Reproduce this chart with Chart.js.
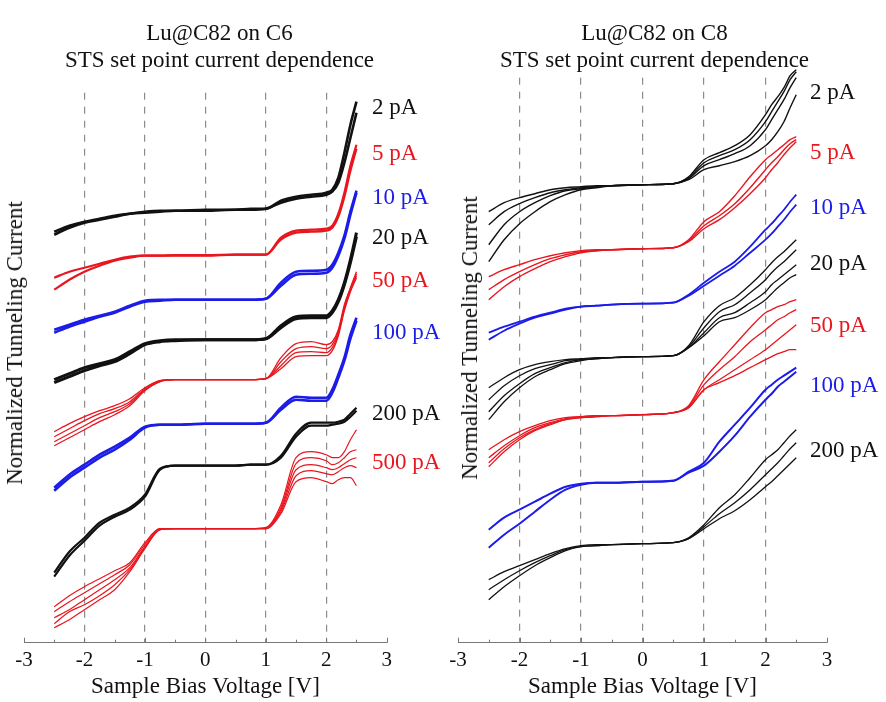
<!DOCTYPE html>
<html lang="en">
<head>
<meta charset="UTF-8">
<title>Lu@C82 STS set point current dependence</title>
<script src="https://cdn.jsdelivr.net/npm/chart.js"></script>
<style>
    body { margin: 0; background: #fff; font-family: "Liberation Serif", "DejaVu Serif", serif; color: #111; }
    #wrap { position: relative; width: 886px; height: 702px; overflow: hidden; }
    canvas { position: absolute; top: 0; }
    .title { position: absolute; top: 19px; width: 443px; text-align: center; font-size: 23px; line-height: 27px; }
    .ytitle { position: absolute; transform: translate(-50%, -50%) rotate(-90deg); white-space: nowrap; font-size: 23px; }
    .lbl { position: absolute; transform: translateY(-50%); white-space: nowrap; font-size: 23px; }
</style>
</head>
<body>
<div id="wrap">
    <canvas id="c6" width="443" height="702" style="left:0"></canvas>
    <canvas id="c8" width="443" height="702" style="left:443px"></canvas>
    <div class="title" style="left:-2px">Lu@C82 on C6<br>STS set point current dependence</div>
    <div class="title" style="left:433px">Lu@C82 on C8<br>STS set point current dependence</div>
    <div class="ytitle" style="left:15px; top:343px">Normalized Tunneling Current</div>
    <div class="ytitle" style="left:470px; top:338px">Normalized Tunneling Current</div>
</div>

<script>
    // sample bias grid (V) shared by every trace
    const biasV = [-2.5, -2.25, -2, -1.75, -1.5, -1.25, -1, -0.75, -0.5, 0, 0.5, 0.75, 1, 1.25, 1.5, 1.75, 2, 2.1, 2.2, 2.3, 2.4, 2.5];
    const xTicks = [-3, -2, -1, 0, 1, 2, 3];

    // ---- Lu@C82 on C6 (offset traces, arbitrary units) ----
    const c6Labels = ['2 pA', '5 pA', '10 pA', '20 pA', '50 pA', '100 pA', '200 pA', '500 pA'];
    const c6_2pA = [
        [41.1, 41.7, 42.1, 42.4, 42.7, 42.9, 43.1, 43.2, 43.2, 43.3, 43.3, 43.4, 43.4, 44.2, 44.6, 44.8, 45.0, 45.3, 46.5, 49.0, 51.8, 54.1],
        [40.8, 41.5, 42.0, 42.3, 42.6, 42.9, 43.0, 43.1, 43.2, 43.2, 43.3, 43.3, 43.4, 44.0, 44.4, 44.6, 44.8, 45.1, 46.0, 48.0, 50.5, 53.0]
    ];
    const c6_5pA = [
        [36.5, 37.1, 37.5, 37.9, 38.3, 38.6, 38.7, 38.7, 38.75, 38.75, 38.8, 38.8, 38.8, 40.5, 41.2, 41.3, 41.4, 41.7, 42.9, 45.0, 47.7, 49.8],
        [35.3, 36.3, 37.1, 37.7, 38.2, 38.5, 38.7, 38.7, 38.7, 38.7, 38.8, 38.8, 38.8, 40.3, 41.0, 41.1, 41.2, 41.5, 42.6, 44.6, 47.2, 49.4]
    ];
    const c6_10pA = [
        [31.3, 31.8, 32.3, 32.7, 33.1, 33.7, 34.2, 34.3, 34.3, 34.3, 34.3, 34.3, 34.4, 36.0, 37.1, 37.2, 37.3, 37.8, 39.0, 40.7, 43.1, 45.2],
        [31.0, 31.6, 32.1, 32.6, 33.0, 33.6, 34.1, 34.2, 34.3, 34.3, 34.3, 34.3, 34.4, 35.7, 36.8, 36.9, 37.0, 37.5, 38.7, 40.4, 42.8, 45.0]
    ];
    const c6_20pA = [
        [26.3, 26.9, 27.5, 27.9, 28.3, 29.1, 29.9, 30.2, 30.3, 30.3, 30.3, 30.3, 30.4, 31.7, 32.6, 32.7, 32.7, 33.2, 34.3, 36.0, 38.3, 41.0],
        [26.0, 26.6, 27.2, 27.7, 28.1, 28.9, 29.8, 30.1, 30.2, 30.3, 30.3, 30.3, 30.4, 31.5, 32.4, 32.5, 32.5, 33.0, 34.1, 35.8, 38.0, 40.6]
    ];
    const c6_50pA = [
        [21.1, 21.9, 22.6, 23.2, 23.7, 24.4, 25.5, 26.2, 26.3, 26.3, 26.3, 26.3, 26.4, 28.5, 29.9, 30.1, 29.8, 30.1, 31.3, 33.8, 35.5, 37.1],
        [20.6, 21.4, 22.2, 22.9, 23.4, 24.1, 25.4, 26.2, 26.3, 26.3, 26.3, 26.3, 26.4, 28.1, 29.4, 29.6, 29.4, 29.8, 31.1, 33.6, 35.4, 36.9],
        [20.1, 20.9, 21.7, 22.5, 23.1, 23.9, 25.3, 26.1, 26.3, 26.3, 26.3, 26.3, 26.4, 27.7, 29.0, 29.1, 29.0, 29.5, 30.9, 33.4, 35.3, 36.7],
        [19.7, 20.5, 21.3, 22.1, 22.8, 23.7, 25.2, 26.1, 26.3, 26.3, 26.3, 26.3, 26.4, 27.4, 28.6, 28.7, 28.7, 29.2, 30.7, 33.2, 35.1, 36.5]
    ];
    const c6_100pA = [
        [15.5, 16.8, 17.8, 18.8, 19.6, 20.5, 21.6, 21.8, 21.8, 21.9, 21.9, 21.9, 22.0, 23.5, 24.6, 24.5, 24.5, 25.3, 26.8, 28.5, 30.8, 32.5],
        [15.2, 16.5, 17.5, 18.5, 19.3, 20.3, 21.5, 21.8, 21.8, 21.9, 21.9, 21.9, 22.0, 23.3, 24.3, 24.2, 24.2, 25.0, 26.5, 28.2, 30.4, 32.2]
    ];
    const c6_200pA = [
        [7.0, 9.1, 10.5, 12.0, 12.8, 13.5, 14.8, 17.4, 17.7, 17.7, 17.7, 17.8, 17.8, 18.7, 20.9, 22.0, 22.0, 22.0, 22.1, 22.3, 22.9, 23.5],
        [6.6, 8.7, 10.2, 11.7, 12.6, 13.3, 14.6, 17.3, 17.7, 17.7, 17.7, 17.8, 17.8, 18.5, 20.6, 21.7, 21.7, 21.8, 21.9, 22.1, 22.6, 23.2]
    ];
    const c6_500pA = [
        [3.6, 4.7, 5.6, 6.4, 7.2, 8.0, 10.0, 11.4, 11.4, 11.4, 11.4, 11.4, 11.5, 13.8, 18.5, 19.1, 18.8, 18.5, 18.5, 19.1, 20.3, 21.3],
        [3.1, 4.1, 5.0, 5.9, 6.8, 7.8, 9.8, 11.4, 11.4, 11.4, 11.4, 11.4, 11.5, 13.5, 17.9, 18.5, 18.2, 17.8, 18.0, 18.5, 19.1, 19.3],
        [2.5, 3.3, 4.3, 5.3, 6.3, 7.5, 9.6, 11.3, 11.4, 11.4, 11.4, 11.4, 11.4, 13.3, 17.3, 17.8, 17.5, 17.3, 17.5, 17.9, 18.3, 18.5],
        [1.9, 3.1, 3.8, 4.7, 5.8, 7.3, 9.5, 11.3, 11.4, 11.4, 11.4, 11.4, 11.4, 13.1, 16.7, 17.2, 16.9, 16.8, 17.1, 17.5, 17.7, 17.5],
        [1.5, 2.3, 3.3, 4.3, 5.3, 7.1, 9.4, 11.3, 11.4, 11.4, 11.4, 11.4, 11.4, 12.9, 16.1, 16.5, 16.1, 15.9, 16.3, 16.5, 16.5, 15.7]
    ];

    // ---- Lu@C82 on C8 ----
    const c8Labels = ['2 pA', '5 pA', '10 pA', '20 pA', '50 pA', '100 pA', '200 pA'];
    const c8_2pA = [
        [43.1, 44.0, 44.5, 44.9, 45.3, 45.5, 45.6, 45.7, 45.7, 45.8, 45.9, 46.6, 48.3, 49.0, 49.7, 50.8, 52.8, 53.8, 54.6, 55.5, 56.7, 57.3],
        [41.8, 43.1, 43.9, 44.5, 45.0, 45.3, 45.5, 45.6, 45.7, 45.8, 45.9, 46.5, 48.0, 48.7, 49.3, 50.3, 52.1, 53.1, 54.1, 55.1, 56.3, 57.1],
        [39.8, 41.8, 43.1, 44.0, 44.7, 45.2, 45.4, 45.6, 45.7, 45.8, 45.9, 46.4, 47.7, 48.3, 48.9, 49.7, 51.3, 52.3, 53.3, 54.3, 55.5, 56.5],
        [38.1, 40.3, 41.9, 43.1, 44.1, 44.8, 45.3, 45.5, 45.7, 45.8, 45.9, 46.3, 47.3, 47.7, 48.1, 48.7, 49.7, 50.3, 51.1, 52.1, 53.5, 54.8]
    ];
    const c8_5pA = [
        [36.6, 37.3, 37.8, 38.3, 38.7, 39.0, 39.2, 39.3, 39.3, 39.4, 39.5, 40.3, 42.1, 43.1, 44.7, 46.6, 48.3, 48.8, 49.3, 49.8, 50.3, 50.6],
        [35.3, 36.3, 37.1, 37.8, 38.4, 38.8, 39.1, 39.2, 39.3, 39.4, 39.5, 40.2, 41.7, 42.7, 43.9, 45.5, 47.3, 48.0, 48.6, 49.3, 49.9, 50.3],
        [34.3, 35.6, 36.6, 37.4, 38.1, 38.6, 39.0, 39.2, 39.3, 39.4, 39.5, 40.1, 41.4, 42.3, 43.5, 44.9, 46.5, 47.3, 48.0, 48.8, 49.5, 50.1]
    ];
    const c8_10pA = [
        [31.0, 31.6, 32.1, 32.6, 33.0, 33.4, 33.6, 33.7, 33.8, 33.9, 34.0, 34.8, 36.0, 37.1, 38.1, 39.6, 41.3, 41.9, 42.6, 43.3, 44.1, 44.8],
        [30.3, 31.2, 31.9, 32.5, 32.9, 33.3, 33.6, 33.7, 33.8, 33.9, 34.0, 34.7, 35.7, 36.7, 37.7, 39.0, 40.3, 40.9, 41.6, 42.3, 43.1, 43.8]
    ];
    const c8_20pA = [
        [25.5, 26.5, 27.3, 27.8, 28.1, 28.3, 28.4, 28.5, 28.5, 28.6, 28.7, 29.7, 32.1, 33.7, 34.5, 35.8, 37.3, 38.0, 38.6, 39.1, 39.7, 40.3],
        [24.3, 25.7, 26.7, 27.4, 27.8, 28.2, 28.3, 28.4, 28.5, 28.6, 28.7, 29.6, 31.5, 33.1, 33.8, 35.0, 36.3, 37.0, 37.6, 38.1, 38.7, 39.3],
        [23.1, 24.7, 25.9, 26.9, 27.5, 28.0, 28.3, 28.4, 28.5, 28.6, 28.7, 29.5, 31.0, 32.5, 33.0, 34.0, 35.1, 35.8, 36.3, 36.8, 37.3, 37.8],
        [22.3, 24.1, 25.5, 26.6, 27.3, 27.9, 28.2, 28.4, 28.5, 28.6, 28.7, 29.5, 30.7, 32.1, 32.5, 33.3, 34.3, 34.9, 35.5, 36.0, 36.5, 36.8]
    ];
    const c8_50pA = [
        [19.3, 20.3, 21.1, 21.7, 22.2, 22.5, 22.6, 22.7, 22.7, 22.8, 23.0, 23.7, 26.3, 28.1, 29.8, 31.5, 33.0, 33.3, 33.6, 33.8, 34.1, 34.3],
        [18.5, 19.7, 20.7, 21.5, 22.0, 22.4, 22.6, 22.7, 22.7, 22.8, 23.0, 23.6, 25.8, 27.3, 28.6, 30.1, 31.3, 31.8, 32.3, 32.6, 33.0, 33.3],
        [17.6, 19.1, 20.3, 21.2, 21.8, 22.3, 22.5, 22.6, 22.7, 22.8, 23.0, 23.5, 25.3, 26.3, 27.3, 28.3, 29.3, 29.8, 30.3, 30.8, 31.3, 31.8],
        [18.0, 19.4, 20.5, 21.3, 21.9, 22.3, 22.5, 22.6, 22.7, 22.8, 23.0, 23.5, 25.3, 26.0, 26.7, 27.5, 28.3, 28.6, 28.9, 29.1, 29.3, 29.3]
    ];
    const c8_100pA = [
        [11.3, 12.5, 13.3, 14.1, 14.9, 15.6, 15.9, 16.0, 16.0, 16.1, 16.2, 17.1, 18.0, 20.1, 21.8, 23.5, 25.3, 25.8, 26.3, 26.7, 27.1, 27.5],
        [9.5, 10.8, 11.9, 13.1, 14.3, 15.3, 15.8, 16.0, 16.0, 16.1, 16.2, 17.0, 17.7, 19.1, 20.7, 22.6, 24.3, 24.9, 25.6, 26.1, 26.6, 27.1]
    ];
    const c8_200pA = [
        [6.3, 7.1, 7.7, 8.3, 8.9, 9.4, 9.7, 9.8, 9.8, 9.9, 10.0, 10.5, 11.8, 13.5, 14.8, 16.5, 18.3, 18.8, 19.3, 20.0, 20.7, 21.3],
        [5.3, 6.3, 7.2, 8.0, 8.7, 9.3, 9.6, 9.7, 9.8, 9.9, 10.0, 10.4, 11.6, 12.9, 14.0, 15.3, 16.8, 17.4, 18.0, 18.7, 19.4, 20.0],
        [4.3, 5.6, 6.7, 7.7, 8.5, 9.2, 9.6, 9.7, 9.8, 9.9, 10.0, 10.4, 11.4, 12.4, 13.2, 14.3, 15.6, 16.1, 16.7, 17.3, 17.9, 18.5]
    ];

    // ---- styling / layout ----
    const BLACK = '#111111', RED = '#e8161e', BLUE = '#1c1ce8';
    const cycle = [BLACK, RED, BLUE];
    const SERIF = '"Liberation Serif", "DejaVu Serif", serif';

    const panels = [
        { id: 'c6', groups: [c6_2pA, c6_5pA, c6_10pA, c6_20pA, c6_50pA, c6_100pA, c6_200pA, c6_500pA], labels: c6Labels,
          widths: [2.6, 2.2, 2.6, 3, 1.3, 2.6, 2.2, 1.2], pad: { left: 24, right: 56.3, top: 92.7 }, yMax: 55,
          lblX: 372, lblY: [107, 153, 197, 237, 280, 332, 413, 462] },
        { id: 'c8', groups: [c8_2pA, c8_5pA, c8_10pA, c8_20pA, c8_50pA, c8_100pA, c8_200pA], labels: c8Labels,
          widths: [1.4, 1.4, 1.8, 1.3, 1.3, 2, 1.3], pad: { left: 15, right: 59, top: 77.7 }, yMax: 56.5,
          lblX: 810, lblY: [92, 152, 207, 263, 325, 385, 450] }
    ];

    // small inward tick marks every 0.5 V along the bias axis
    const tickMarks = {
        id: 'tickMarks',
        afterDraw(chart) {
            const sx = chart.scales.x, y0 = chart.chartArea.bottom, ctx = chart.ctx;
            ctx.save();
            ctx.strokeStyle = '#777';
            ctx.lineWidth = 1;
            for (let v = -3; v <= 3; v += 0.5) {
                const px = Math.round(sx.getPixelForValue(v)) + 0.5;
                ctx.beginPath();
                ctx.moveTo(px, y0);
                ctx.lineTo(px, y0 - (Number.isInteger(v) ? 5 : 3));
                ctx.stroke();
            }
            ctx.restore();
        }
    };

    const wrap = document.getElementById('wrap');

    panels.forEach(p => {
        const datasets = [];
        p.groups.forEach((traces, gi) => {
            traces.forEach(tr => {
                datasets.push({
                    data: biasV.map((v, i) => ({ x: v, y: tr[i] })),
                    borderColor: cycle[gi % 3],
                    borderWidth: p.widths[gi],
                    pointRadius: 0,
                    cubicInterpolationMode: 'monotone',
                    clip: false
                });
            });
            const el = document.createElement('div');
            el.className = 'lbl';
            el.textContent = p.labels[gi];
            el.style.left = p.lblX + 'px';
            el.style.top = p.lblY[gi] + 'px';
            el.style.color = cycle[gi % 3] === BLACK ? '#111' : cycle[gi % 3];
            wrap.appendChild(el);
        });

        new Chart(document.getElementById(p.id), {
            type: 'line',
            data: { datasets },
            plugins: [tickMarks],
            options: {
                responsive: false,
                animation: false,
                devicePixelRatio: 1,
                layout: { padding: { left: p.pad.left, right: p.pad.right, top: p.pad.top, bottom: 0 } },
                plugins: { legend: { display: false }, tooltip: { enabled: false } },
                scales: {
                    x: {
                        type: 'linear',
                        min: -3, max: 3,
                        afterBuildTicks: s => { s.ticks = xTicks.map(v => ({ value: v })); },
                        afterFit: s => { s.height = 59.3; },
                        ticks: { font: { family: SERIF, size: 21 }, color: '#111', padding: 5 },
                        grid: {
                            drawTicks: false,
                            lineWidth: 1.2,
                            color: c => (c.tick && Math.abs(c.tick.value) < 2.5) ? '#8c8c8c' : 'rgba(0,0,0,0)'
                        },
                        border: { display: true, color: '#777', width: 1, dash: [7, 7] },
                        title: { display: true, text: 'Sample Bias Voltage [V]', color: '#111',
                                 font: { family: SERIF, size: 23 }, padding: { top: 0, bottom: 1 } }
                    },
                    y: { display: false, min: 0, max: p.yMax }
                }
            }
        });
    });
</script>
</body>
</html>
